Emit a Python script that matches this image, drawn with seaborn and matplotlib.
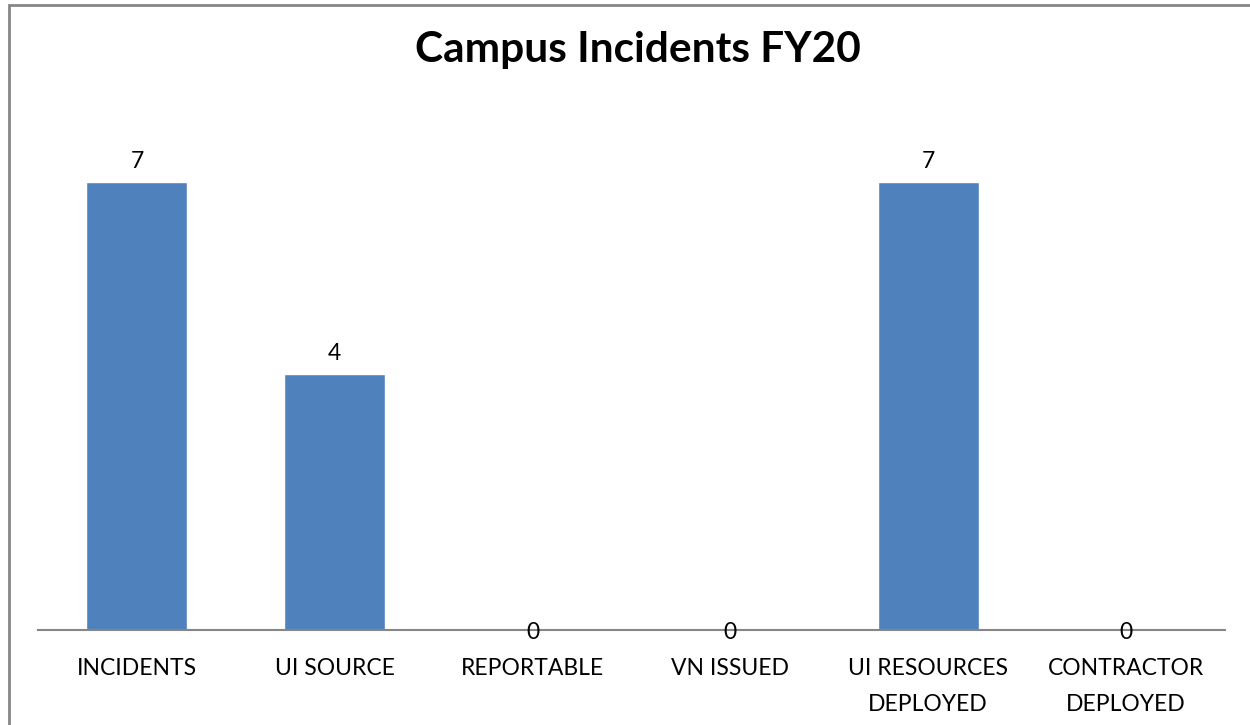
import numpy as np
import pandas as pd
import matplotlib.pyplot as plt
import seaborn as sns
from matplotlib.patches import Rectangle

categories = ['INCIDENTS', 'UI SOURCE', 'REPORTABLE', 'VN ISSUED',
              'UI RESOURCES\nDEPLOYED', 'CONTRACTOR\nDEPLOYED']
counts = [7, 4, 0, 0, 7, 0]

sns.set_theme(style='white')
plt.rcParams['font.family'] = ['Lato', 'DejaVu Sans']

df = pd.DataFrame({'cat': categories, 'n': counts})

fig = plt.figure(figsize=(12.5, 7.25), dpi=100)
ax = fig.add_axes([38 / 1250, 95 / 725, 1187 / 1250, 512 / 725])

sns.barplot(data=df, x='cat', y='n', color='#4F81BD', saturation=1,
            width=0.51, ax=ax)

ax.set_ylim(0, 8)
ax.set_xlim(-0.5, len(categories) - 0.5)
ax.set_xlabel('')
ax.set_ylabel('')
ax.set_yticks([])
ax.tick_params(axis='x', length=0, labelsize=16.5, pad=20, colors='black')
for lbl in ax.get_xticklabels():
    lbl.set_linespacing(1.9)

for s in ['top', 'right', 'left']:
    ax.spines[s].set_visible(False)
ax.spines['bottom'].set_color('#868686')
ax.spines['bottom'].set_linewidth(1.5)
ax.spines['bottom'].set_zorder(1)

for i, v in enumerate(counts):
    if v > 0:
        ax.annotate(str(v), (i, v), xytext=(0, 7), textcoords='offset points',
                    ha='center', va='bottom', fontsize=16.5, color='black')
    else:
        ax.annotate(str(v), (i, v), xytext=(0, -2), textcoords='offset points',
                    ha='center', va='center', fontsize=16.5, color='black')

fig.text(0.51, 1 - 50 / 725, 'Campus Incidents FY20', ha='center', va='center',
         fontsize=30.5, fontweight='bold', color='black')

# outer chart border (runs off right and bottom edge like the source)
fig.patches.append(Rectangle((9 / 1250, -0.05), 1.1, 1 - 5 / 725 + 0.05,
                             transform=fig.transFigure, fill=False,
                             edgecolor='#868686', linewidth=2))

fig.savefig('out.png', dpi=100)
